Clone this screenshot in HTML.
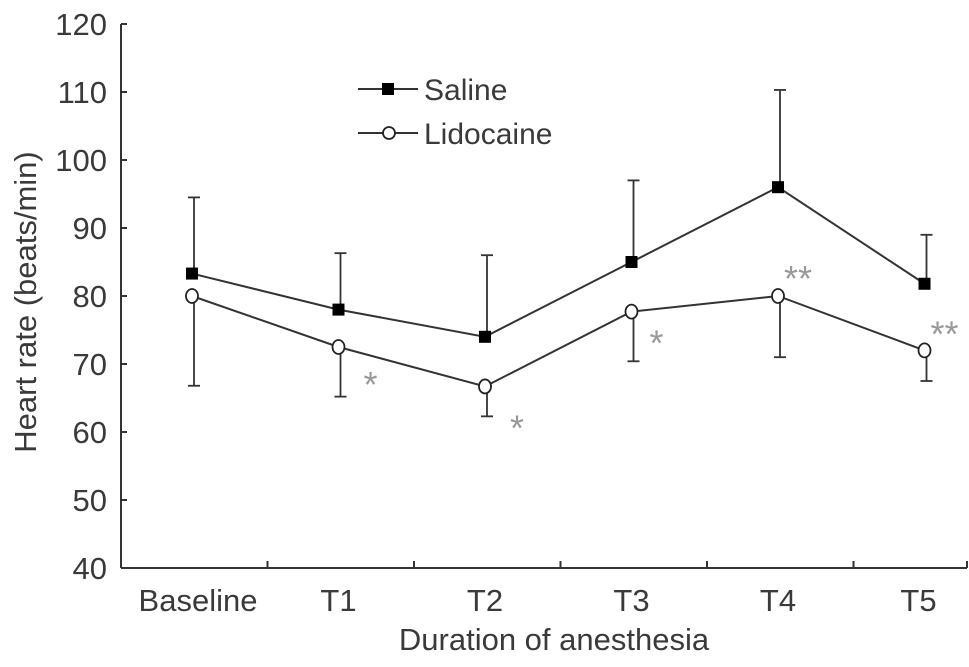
<!DOCTYPE html>
<html><head><meta charset="utf-8"><style>
body{margin:0;background:#fff;}
svg text{font-family:"Liberation Sans",sans-serif;fill:#3a3a3a;}
</style></head><body>
<svg width="969" height="662" id="c">
</svg>
<script>
const categories=["Baseline","T1","T2","T3","T4","T5"];
const salineValues=[83.3,78,74,85,96,81.8];
const salineUpper=[94.5,86.3,86,97,110.3,89];
const lidoValues=[80,72.5,66.7,77.7,80,72];
const lidoLower=[66.8,65.2,62.3,70.4,71,67.5];
const yTicks=[40,50,60,70,80,90,100,110,120];
const lidoMarks=["","*","*","*","**","**"];
const ns="http://www.w3.org/2000/svg";
const svg=document.getElementById('c');
const x0=121,x1=967,y0=568,y1=24;
function y(v){return y0-(v-40)/80*(y0-y1);}
const step=146.5;
function x(i){return 192+i*step;}
function el(t,a,p){const e=document.createElementNS(ns,t);for(const k in a)e.setAttribute(k,a[k]);(p||svg).appendChild(e);return e;}
const axes=el('g',{});


el('line',{x1:x0,y1:y1,x2:x0,y2:y0,stroke:'#333','stroke-width':2},axes);
el('line',{x1:x0,y1:y0,x2:x1,y2:y0,stroke:'#333','stroke-width':2},axes);
yTicks.forEach(v=>{
 el('line',{x1:x0,y1:y(v),x2:x0+6,y2:y(v),stroke:'#333','stroke-width':2},axes);
 const t=el('text',{x:x0-14,y:y(v)+11,'text-anchor':'end','font-size':31},axes);
 t.textContent=v;
 
 
});
categories.forEach((c,i)=>{
 if(i>0){const tx=x0+i*step;el('line',{x1:tx,y1:y0,x2:tx,y2:y0-7,stroke:'#333','stroke-width':2},axes);}
 const t=el('text',{x:x(i)+(i==0?6:i==5?-6:0),y:y0+43,'text-anchor':'middle','font-size':31},axes);
 t.textContent=c;
 
 
});
el('line',{x1:x1,y1:y0,x2:x1,y2:y0-7,stroke:'#333','stroke-width':2},axes);
let t=el('text',{x:554,y:650,'text-anchor':'middle','font-size':31});
t.textContent='Duration of anesthesia';


t=el('text',{x:0,y:0,'text-anchor':'middle','font-size':31,transform:'translate(36,302) rotate(-90)'});
t.textContent='Heart rate (beats/min)';


categories.forEach((c,i)=>{
 const g=el('g',{stroke:'#333','stroke-width':1.8});
 
 
 el('line',{x1:x(i)+2,y1:y(salineValues[i]),x2:x(i)+2,y2:y(salineUpper[i])},g);
 el('line',{x1:x(i)-4,y1:y(salineUpper[i]),x2:x(i)+8,y2:y(salineUpper[i])},g);
 el('line',{x1:x(i)+2,y1:y(lidoValues[i]),x2:x(i)+2,y2:y(lidoLower[i])},g);
 el('line',{x1:x(i)-4,y1:y(lidoLower[i]),x2:x(i)+8,y2:y(lidoLower[i])},g);
});
const sl=el('polyline',{points:salineValues.map((v,i)=>x(i)+','+y(v)).join(' '),fill:'none',stroke:'#333','stroke-width':2});


const ll=el('polyline',{points:lidoValues.map((v,i)=>x(i)+','+y(v)).join(' '),fill:'none',stroke:'#333','stroke-width':2});


salineValues.forEach((v,i)=>{
 const r=el('rect',{x:x(i)-6,y:y(v)-6,width:12,height:12,fill:'#000'});
 
 
});
lidoValues.forEach((v,i)=>{
 const r=el('ellipse',{cx:x(i),cy:y(v),rx:6,ry:7,fill:'#fff',stroke:'#222','stroke-width':1.8});
 
 
});
const starPos=[null,[x(1)+32,y(lidoValues[1])+50],[x(2)+32,y(lidoValues[2])+54],[x(3)+25,y(lidoValues[3])+44],[x(4)+20,y(salineValues[4])+104],[x(5)+20,y(lidoValues[5])-4]];
lidoMarks.forEach((m,i)=>{
 if(!m)return;
 const s=el('text',{x:starPos[i][0],y:starPos[i][1],'font-size':36,'text-anchor':'middle'});
 s.style.fill='#999';
 s.textContent=m;
 
 
});
const lg=el('g',{});


el('line',{x1:358,y1:89,x2:418,y2:89,stroke:'#333','stroke-width':2},lg);
el('rect',{x:382,y:83,width:12,height:12,fill:'#000'},lg);
t=el('text',{x:424,y:100,'font-size':30},lg);t.textContent='Saline';


el('line',{x1:358,y1:133,x2:418,y2:133,stroke:'#333','stroke-width':2},lg);
el('circle',{cx:389,cy:133,r:6,fill:'#fff',stroke:'#222','stroke-width':1.8},lg);
t=el('text',{x:424,y:144,'font-size':30},lg);t.textContent='Lidocaine';


</script>
</body></html>
